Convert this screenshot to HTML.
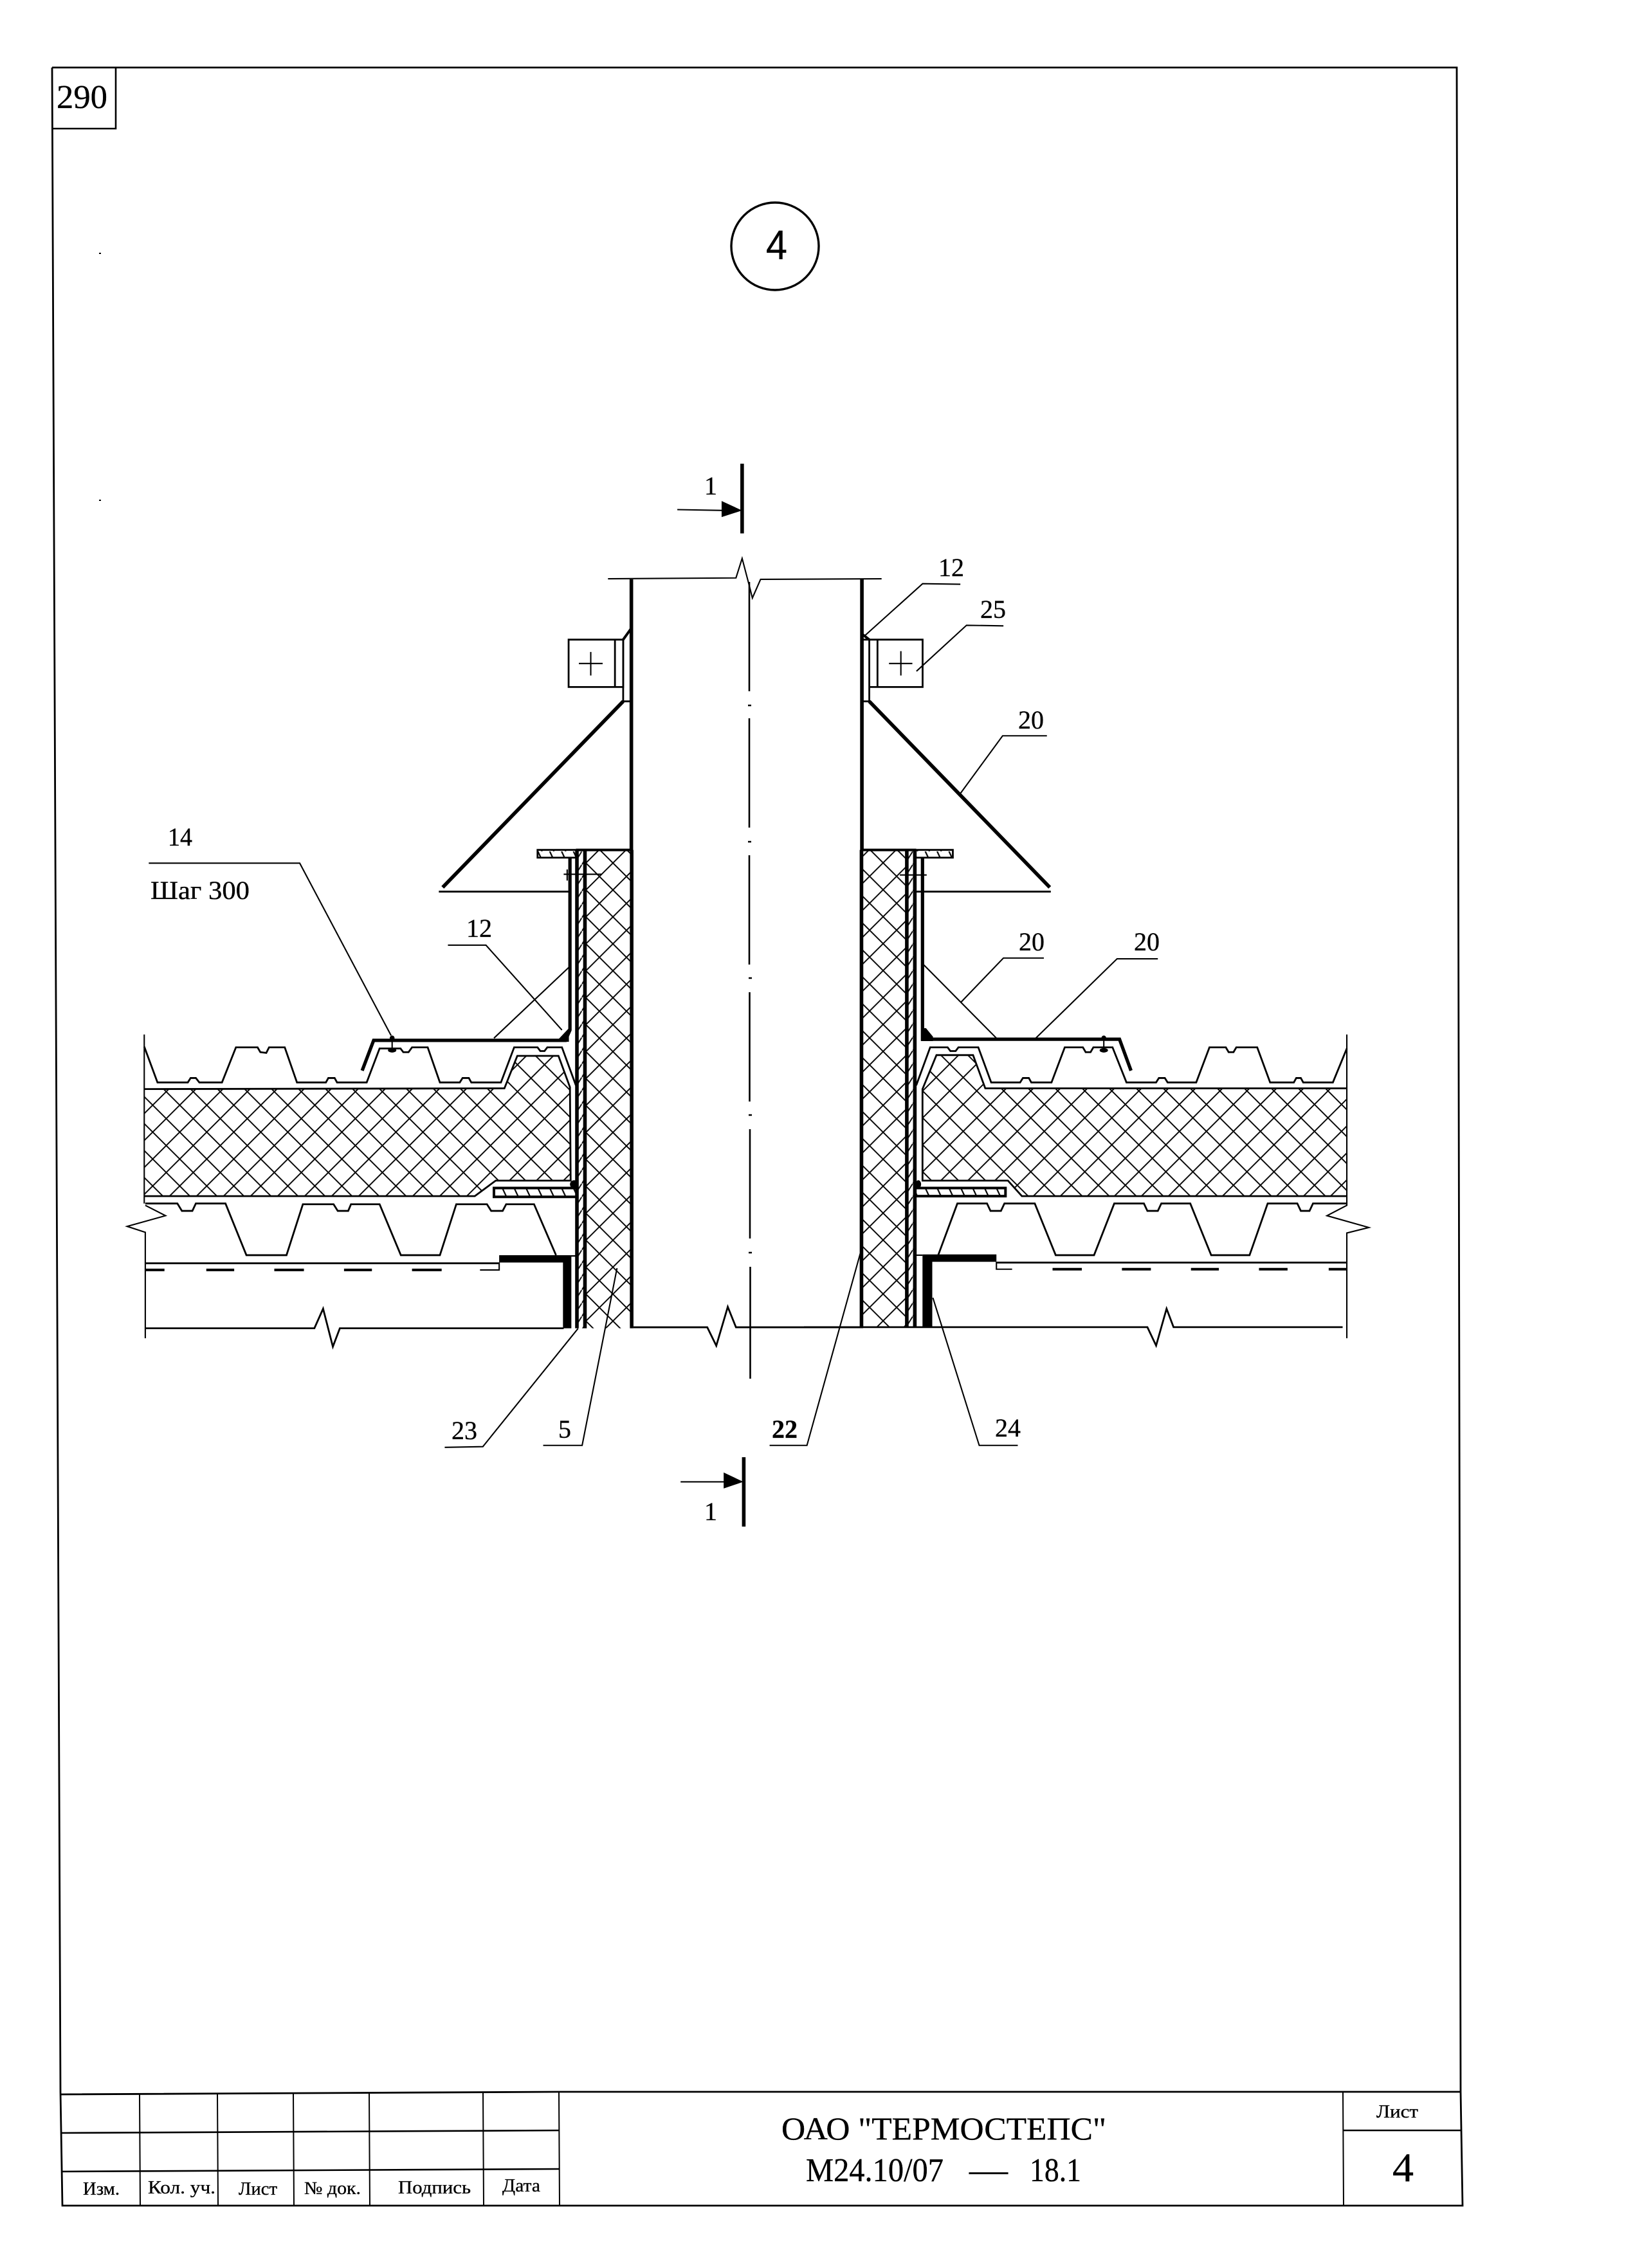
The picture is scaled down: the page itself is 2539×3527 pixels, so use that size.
<!DOCTYPE html>
<html><head><meta charset="utf-8"><style>
html,body{margin:0;padding:0;background:#fff}
svg{display:block}
text{font-family:"Liberation Serif","Noto Serif CJK SC",serif;fill:#000;stroke:#000;stroke-width:.35}
.t{fill:none;stroke:#000;stroke-width:2.1;vector-effect:non-scaling-stroke}
.w{fill:none;stroke:#000;stroke-width:2.8;vector-effect:non-scaling-stroke}
.m{fill:none;stroke:#000;stroke-width:4;vector-effect:non-scaling-stroke}
.f{fill:none;stroke:#000;stroke-width:5.2;vector-effect:non-scaling-stroke}
.b{fill:none;stroke:#000;stroke-width:5.6;vector-effect:non-scaling-stroke}
.k{fill:#000;stroke:none}
</style></head><body>
<svg xmlns="http://www.w3.org/2000/svg" width="2539" height="3527" viewBox="0 0 2539 3527">
<defs>
<pattern id="hA1" patternUnits="userSpaceOnUse" x="200" y="867" width="77.5" height="73"><path d="M0 0L77.5 73M77.5 0L0 73" stroke="#000" stroke-width="3.4" fill="none"/></pattern>
<pattern id="hA2" patternUnits="userSpaceOnUse" x="573" y="865" width="77.5" height="73"><path d="M0 0L77.5 73M77.5 0L0 73" stroke="#000" stroke-width="3.4" fill="none"/></pattern>
<pattern id="hB1" patternUnits="userSpaceOnUse" x="1442.5" y="357" width="77.5" height="73"><path d="M0 0L77.5 73M77.5 0L0 73" stroke="#000" stroke-width="3.4" fill="none"/></pattern>
<pattern id="hB2" patternUnits="userSpaceOnUse" x="227" y="247" width="77.5" height="73"><path d="M0 0L77.5 73M77.5 0L0 73" stroke="#000" stroke-width="3.4" fill="none"/></pattern>
<pattern id="hC" patternUnits="userSpaceOnUse" x="0" y="0" width="34" height="24"><path d="M8 0L20 24" stroke="#000" stroke-width="4" fill="none"/></pattern>
<pattern id="hD" patternUnits="userSpaceOnUse" x="0" y="0" width="24" height="36"><path d="M24 0L0 36" stroke="#000" stroke-width="3.4" fill="none"/></pattern>
</defs>
<rect width="2539" height="3527" fill="#fff"/>

<!-- sheet frame -->
<path d="M81 105L2265 105L2271 3253L2274 3430L97 3430L94 3253L81 105" fill="none" stroke="#000" stroke-width="2.8"/>
<path d="M81 200L180 200L180 105" fill="none" stroke="#000" stroke-width="2.6"/>
<text x="88" y="168" font-size="52" textLength="79" lengthAdjust="spacingAndGlyphs">290</text>
<rect x="154" y="393" width="3" height="2" fill="#000"/><rect x="154" y="777" width="3" height="2" fill="#000"/>

<!-- detail marker -->
<circle cx="1205" cy="383" r="68" fill="none" stroke="#000" stroke-width="3.4"/>
<text x="1191" y="403" font-size="64" style="font-family:'Liberation Sans',sans-serif" textLength="33" lengthAdjust="spacingAndGlyphs">4</text>

<!-- title block -->
<g fill="none" stroke="#000">
<path d="M95 3257L869 3253L2271 3253" stroke-width="2.8"/>
<path d="M95 3317L869 3313" stroke-width="2.6"/>
<path d="M96 3377L869 3373" stroke-width="2.6"/>
<path d="M2088 3313L2271 3313" stroke-width="2.6"/>
<path d="M217 3257L218 3430M338 3256L339 3430M456 3255L457 3430M574 3255L575 3430M751 3254L752 3430M869 3253L870 3430M2088 3253L2089 3430" stroke-width="2"/>
</g>
<text x="129" y="3413" font-size="28" textLength="57" lengthAdjust="spacingAndGlyphs">Изм.</text>
<text x="230" y="3411" font-size="28" textLength="105" lengthAdjust="spacingAndGlyphs">Кол. уч.</text>
<text x="371" y="3413" font-size="28" textLength="60" lengthAdjust="spacingAndGlyphs">Лист</text>
<text x="473" y="3412" font-size="28" textLength="88" lengthAdjust="spacingAndGlyphs">№ док.</text>
<text x="619" y="3411" font-size="28" textLength="113" lengthAdjust="spacingAndGlyphs">Подпись</text>
<text x="781" y="3408" font-size="28" textLength="59" lengthAdjust="spacingAndGlyphs">Дата</text>
<text x="1215" y="3327" font-size="50" textLength="505" lengthAdjust="spacingAndGlyphs">ОАО "ТЕРМОСТЕПС"</text>
<text x="1253" y="3392" font-size="52" textLength="214" lengthAdjust="spacingAndGlyphs">М24.10/07</text>
<text x="1507" y="3392" font-size="52" textLength="60" lengthAdjust="spacingAndGlyphs">—</text>
<text x="1601" y="3392" font-size="52" textLength="80" lengthAdjust="spacingAndGlyphs">18.1</text>
<text x="2140" y="3293" font-size="28" textLength="65" lengthAdjust="spacingAndGlyphs">Лист</text>
<text x="2165" y="3392" font-size="64" textLength="33" lengthAdjust="spacingAndGlyphs">4</text>

<!-- upper pipe region, z3 coordinates -->
<g transform="translate(650 680) scale(.6378 .4464)">
<path class="t" d="M463 493L775 490L790 422L808 520L815 560L835 495L1130 493"/>
<path class="b" d="M520 495L520 1440"/>
<path class="b" d="M1082 495L1082 1440"/>
<path class="w" d="M367 705L500 705L500 870L367 870Z"/>
<path class="w" d="M1120 705L1230 705L1230 870L1100 870M1120 705L1120 870M1082 705L1120 705"/>
<path class="w" d="M480 705L480 870M500 705L500 920L520 920M1100 705L1100 920L1082 920"/>
<path class="t" d="M392 788L450 788M421 748L421 830M1148 788L1205 788M1177 745L1177 830"/>
<path class="m" d="M520 665L500 705M1082 685L1100 705"/>
<path class="b" d="M500 920L60 1568"/>
<path class="b" d="M1100 920L1540 1568"/>
<path class="t" d="M1090 690L1230 510L1322 512"/>
<path class="t" d="M1215 815L1337 655L1427 657"/>
<path class="t" d="M1320 1245L1425 1040L1533 1040"/>
<path class="b" d="M790 92L790 335"/>
<path class="t" d="M632 252L745 255"/>
<path class="k" d="M740 222L790 255L740 278Z"/>
</g>

<!-- center line -->
<path d="M1165 905L1165 1075M1165 1117L1165 1287M1165 1330L1165 1500M1165.5 1543L1165.5 1713M1166 1756L1166 1926M1166.5 1970L1166.5 2144" fill="none" stroke="#000" stroke-width="2.6"/>
<path d="M1163 1097L1168 1097M1163 1309L1168 1309M1164 1521L1169 1521M1164 1734L1169 1734M1164 1948L1169 1948" fill="none" stroke="#000" stroke-width="2.6"/>

<!-- left roof, z1 coordinates -->
<g transform="translate(150 1200) scale(.5421 .574)">
<path fill="url(#hA1)" d="M137 860L1170 858L1207 770L1325 770L1358 855L1360 1108L1145 1108L1085 1150L137 1150Z"/>
<path class="w" d="M137 860L1170 858L1207 770L1325 770L1358 855L1360 1108L1145 1108L1085 1150L137 1150"/>
<path fill="url(#hB1)" d="M1401 212L1535 212L1535 1508L1401 1508Z"/>
<path fill="url(#hD)" d="M1378 212L1401 212L1401 1508L1378 1508Z"/>
<path class="t" d="M137 712L137 1170"/>
<path class="w" d="M137 745L175 842L262 842L270 830L285 830L295 842L360 842L400 747L462 747L470 760L487 762L495 747L540 747L575 842L658 842L665 830L683 830L690 842L775 842L812 750L872 750L880 760L895 760L905 747L950 747L985 842L1042 842L1050 830L1068 830L1075 842L1160 842L1198 747L1265 747L1273 757L1285 757L1293 747L1335 747L1375 850"/>
<path class="f" d="M762 810L795 728L1345 728L1358 700L1358 235"/>
<path class="k" d="M1325 725L1355 695L1355 732L1325 732Z"/>
<circle class="k" cx="848" cy="722" r="7"/><ellipse class="k" cx="848" cy="755" rx="12" ry="6"/>
<path class="t" d="M848 722L848 755"/>
<path class="t" d="M1140 722L1355 530"/>
<path class="t" d="M150 248L583 248L845 715"/>
<path class="t" d="M1008 470L1117 470L1335 700"/>
<rect x="1265" y="212" width="110" height="21" fill="url(#hC)"/>
<path class="w" d="M1375 212L1265 212L1265 233L1375 233"/>
<path class="m" d="M1375 212L1535 212"/>
<path class="b" d="M1378 212L1378 1508"/>
<path class="b" d="M1401 212L1401 1508"/>
<path class="b" d="M1535 212L1535 1508"/>
<path class="w" d="M982 325L1358 325"/>
<path class="t" d="M1340 278L1450 278M1350 265L1350 295"/>
<rect x="1140" y="1128" width="240" height="24" fill="url(#hC)"/>
<path class="m" d="M1380 1128L1140 1128L1140 1152L1380 1152"/>
<ellipse class="k" cx="1370" cy="1118" rx="12" ry="11"/>
<path class="w" d="M140 1170L232 1170L245 1190L275 1190L285 1170L370 1170L430 1310L545 1310L592 1172L680 1172L692 1190L722 1190L730 1172L812 1172L873 1310L985 1310L1032 1172L1120 1172L1132 1190L1165 1190L1175 1172L1255 1172L1318 1310"/>
<path class="t" d="M140 1175L198 1203L88 1232L140 1248L140 1535"/>
<path class="w" d="M140 1332L1155 1332"/>
<path class="m" d="M140 1350L195 1350M315 1350L395 1350M510 1350L595 1350M710 1350L790 1350M905 1350L990 1350"/>
<path class="t" d="M1100 1350L1155 1350L1155 1330"/>
<path class="k" d="M1155 1310L1380 1310L1380 1314L1362 1314L1362 1508L1338 1508L1338 1330L1155 1330Z"/>
<path class="w" d="M140 1508L625 1508L650 1455L678 1558L698 1508L1340 1508"/>
</g>

<!-- right roof, z2 coordinates -->
<g transform="translate(1250 1200) scale(.5421 .574)">
<path fill="url(#hA2)" d="M340 860L380 768L485 768L520 858L1557 858L1557 1150L625 1150L585 1108L340 1108Z"/>
<path class="w" d="M1557 858L520 858L485 768L380 768L340 860L340 1108L585 1108L625 1150L1557 1150"/>
<path fill="url(#hB2)" d="M165 212L295 212L295 1505L165 1505Z"/>
<path fill="url(#hD)" d="M295 212L318 212L318 1505L295 1505Z"/>
<path class="t" d="M1557 712L1557 1175L1500 1203L1620 1235L1557 1250L1557 1535"/>
<path class="w" d="M322 850L362 747L412 747L420 757L435 757L443 747L500 747L537 842L620 842L628 830L645 830L652 842L710 842L748 747L800 747L808 760L822 760L830 747L885 747L925 842L1010 842L1018 830L1035 830L1043 842L1125 842L1163 747L1210 747L1218 760L1232 760L1240 747L1300 747L1337 842L1405 842L1412 830L1425 830L1432 842L1517 842L1557 750"/>
<path class="f" d="M340 235L340 725L905 725L938 810"/>
<path class="k" d="M336 695L350 695L370 718L370 730L336 730Z"/>
<circle class="k" cx="860" cy="722" r="7"/><ellipse class="k" cx="860" cy="755" rx="12" ry="6"/>
<path class="t" d="M860 722L860 755"/>
<path class="t" d="M340 520L552 722"/>
<path class="t" d="M688 505L572 505L450 625"/>
<path class="t" d="M1015 507L898 507L665 722"/>
<rect x="322" y="212" width="105" height="21" fill="url(#hC)"/>
<path class="w" d="M322 212L427 212L427 233L322 233"/>
<path class="m" d="M165 212L322 212"/>
<path class="b" d="M165 212L165 1505"/>
<path class="b" d="M295 212L295 1505"/>
<path class="b" d="M318 212L318 1505"/>
<path class="w" d="M320 325L708 325"/>
<path class="t" d="M275 280L352 280M342 265L342 295"/>
<rect x="322" y="1128" width="256" height="24" fill="url(#hC)"/>
<path class="m" d="M322 1128L578 1128L578 1150L322 1150"/>
<ellipse class="k" cx="328" cy="1118" rx="8" ry="11"/>
<path class="w" d="M1557 1170L1460 1170L1450 1190L1425 1190L1415 1170L1330 1170L1278 1310L1168 1310L1108 1170L1025 1170L1015 1190L985 1190L975 1170L890 1170L832 1310L722 1310L662 1170L575 1170L565 1190L535 1190L525 1170L440 1170L385 1310"/>
<path class="w" d="M552 1330L1557 1330"/>
<path class="m" d="M713 1348L797 1348M912 1348L995 1348M1110 1348L1190 1348M1305 1348L1387 1348M1505 1348L1557 1348"/>
<path class="t" d="M552 1328L552 1348L597 1348M322 1310L340 1310"/>
<path class="k" d="M340 1308L552 1308L552 1328L368 1328L368 1505L340 1505Z"/>
<path class="w" d="M0 1505L985 1505L1010 1555L1040 1455L1060 1505L1545 1505"/>
</g>

<!-- lower section, z7 coordinates -->
<g transform="translate(650 1800) scale(.6378 .3827)">
<path class="w" d="M525 690L705 690L727 765L755 607L775 690L1085 690"/>
<path class="t" d="M65 1178L158 1175L390 695"/>
<path class="t" d="M305 1170L400 1170L485 450"/>
<path class="t" d="M857 1170L948 1170L1078 390"/>
<path class="t" d="M1462 1170L1368 1170L1255 570"/>
<path class="b" d="M794 1218L794 1500"/>
<path class="t" d="M640 1318L750 1318"/>
<path class="k" d="M745 1280L793 1318L745 1345Z"/>
</g>

<!-- labels -->
<g font-size="40">
<text x="1459" y="896">12</text>
<text x="1524" y="961">25</text>
<text x="1583" y="1133">20</text>
<text x="1095" y="769">1</text>
<text x="1584" y="1478">20</text>
<text x="1763" y="1478">20</text>
<text x="725" y="1457">12</text>
<text x="261" y="1315" textLength="38" lengthAdjust="spacingAndGlyphs">14</text>
<text x="234" y="1398" textLength="154" lengthAdjust="spacingAndGlyphs">Шаг 300</text>
<text x="702" y="2238">23</text>
<text x="868" y="2236">5</text>
<text x="1200" y="2236" font-weight="bold">22</text>
<text x="1547" y="2234">24</text>
<text x="1095" y="2364">1</text>
</g>
</svg>
</body></html>
